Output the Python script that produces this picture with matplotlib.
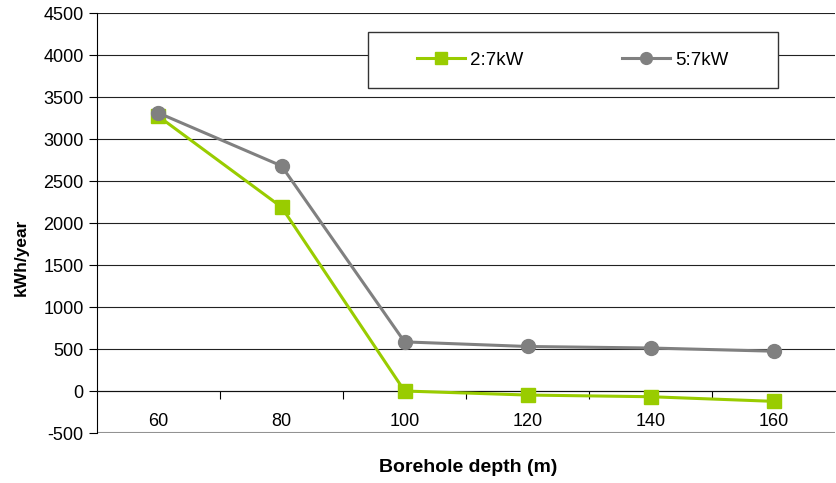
import matplotlib
matplotlib.use("Agg")
import matplotlib.pyplot as plt
import matplotlib.patches as mpatches
import numpy as np

plt.rcParams["font.family"] = ["Liberation Sans", "DejaVu Sans"]
plt.rcParams["axes.unicode_minus"] = False

# data
depths = ["60", "80", "100", "120", "140", "160"]
kw2_7 = [3270, 2190, 0, -48, -68, -123]
kw5_7 = [3310, 2680, 585, 530, 512, 474]

GREEN = "#99CC00"
GREY = "#808080"

fig = plt.figure(figsize=(8.36, 4.83), dpi=100)
ax = fig.add_axes([0.116, 0.1035, 0.883, 0.8695])

x = np.arange(len(depths))
ax.plot(x, kw2_7, color=GREEN, lw=2.2, marker="s", ms=9.5,
        label="2:7kW", zorder=3)
ax.plot(x, kw5_7, color=GREY, lw=2.2, marker="o", ms=10,
        label="5:7kW", zorder=4)

ax.set_xlim(-0.5, len(depths) - 0.5)
ax.set_ylim(-500, 4500)
ax.set_yticks(np.arange(-500, 4501, 500))
ax.tick_params(axis="y", labelsize=13, length=6, direction="out", width=0.8)

# category labels at centres, tick marks at the boundaries
ax.set_xticks(np.arange(0.5, len(depths) - 0.5, 1.0))
ax.set_xticklabels([])
ax.tick_params(axis="x", length=6, direction="out", width=0.8)
for xi, lab in zip(x, depths):
    ax.text(xi, -365, lab, ha="center", va="center", fontsize=13)

ax.grid(axis="y", color="#222222", lw=0.8, zorder=0)
ax.spines["bottom"].set_position(("data", 0))
ax.spines["bottom"].set_color("#111111")
ax.spines["top"].set_visible(False)
ax.spines["right"].set_visible(False)
ax.axhline(-500, color="#999999", lw=1.5, zorder=1)
ax.axhline(4500, color="#888888", lw=1.2, zorder=1)

fig.text(0.026, 0.468, "kWh/year", rotation=90, ha="center", va="center",
         fontsize=12.5, fontweight="bold")
fig.text(0.56, 0.033, "Borehole depth (m)", ha="center", va="center",
         fontsize=14, fontweight="bold")

# legend frame drawn separately so padding can differ per side
ax.add_patch(mpatches.Rectangle((0.367, 0.821), 0.556, 0.134,
                                transform=ax.transAxes, facecolor="white",
                                edgecolor="#333333", lw=1.0, zorder=5))
leg = ax.legend(loc="center left", bbox_to_anchor=(0.4336, 0.888), ncol=2,
                fontsize=13.5, frameon=False, borderpad=0, borderaxespad=0,
                columnspacing=5.3, handlelength=2.55, handletextpad=0.25,
                markerscale=0.85)
leg.set_zorder(6)

fig.savefig("out.png", dpi=100)
